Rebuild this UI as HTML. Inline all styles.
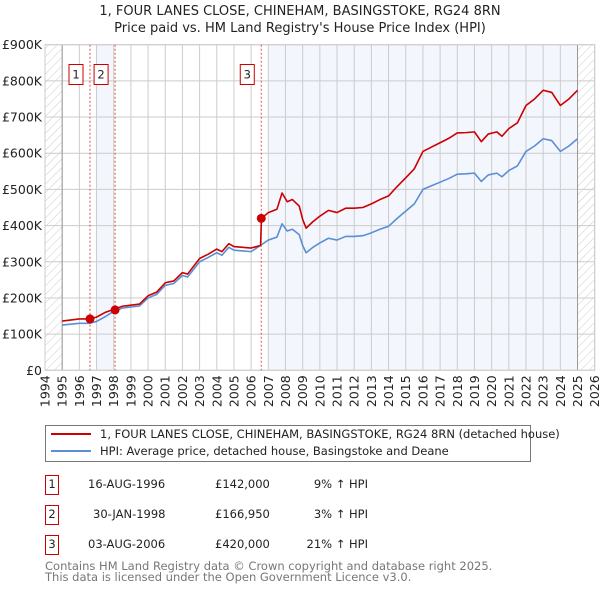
<!DOCTYPE html>
<html><head><meta charset="utf-8"><style>
body{margin:0;background:#fff;}
svg{display:block;font-family:"DejaVu Sans","Liberation Sans",sans-serif;}
</style></head><body>
<svg id="chart" width="600" height="590" viewBox="0 0 600 590">
<defs>
<pattern id="hatch" width="6" height="6" patternUnits="userSpaceOnUse" patternTransform="rotate(45)">
<line x1="0" y1="0" x2="0" y2="6" stroke="#ccc" stroke-width="1"/>
</pattern>
</defs>
<text x="300" y="15" text-anchor="middle" font-size="13" fill="#222">1, FOUR LANES CLOSE, CHINEHAM, BASINGSTOKE, RG24 8RN</text>
<text x="300" y="32" text-anchor="middle" font-size="13" fill="#222">Price paid vs. HM Land Registry's House Price Index (HPI)</text>
<g id="plot"></g>
<g>
<rect x="45.5" y="425.5" width="485" height="36" fill="#fff" stroke="#777"/>
<line x1="51" y1="434" x2="91" y2="434" stroke="#cc0000" stroke-width="2"/>
<text x="100" y="438" font-size="11.5" fill="#222">1, FOUR LANES CLOSE, CHINEHAM, BASINGSTOKE, RG24 8RN (detached house)</text>
<line x1="51" y1="451" x2="91" y2="451" stroke="#5b8fd4" stroke-width="2"/>
<text x="100" y="455" font-size="11.5" fill="#222">HPI: Average price, detached house, Basingstoke and Deane</text>
</g>
<g font-size="11.5" fill="#222">
<rect x="45.5" y="475.5" width="13" height="19" fill="#fff" stroke="#c00"/><text x="52" y="488" text-anchor="middle">1</text>
<text x="88" y="488">16-AUG-1996</text><text x="215" y="488">£142,000</text><text x="368" y="488" text-anchor="end">9% ↑ HPI</text>
<rect x="45.5" y="505.5" width="13" height="19" fill="#fff" stroke="#c00"/><text x="52" y="518" text-anchor="middle">2</text>
<text x="93" y="518">30-JAN-1998</text><text x="215" y="518">£166,950</text><text x="368" y="518" text-anchor="end">3% ↑ HPI</text>
<rect x="45.5" y="535.5" width="13" height="19" fill="#fff" stroke="#c00"/><text x="52" y="548" text-anchor="middle">3</text>
<text x="88" y="548">03-AUG-2006</text><text x="215" y="548">£420,000</text><text x="368" y="548" text-anchor="end">21% ↑ HPI</text>
</g>
<text x="45" y="570" font-size="11.5" fill="#777">Contains HM Land Registry data © Crown copyright and database right 2025.</text>
<text x="45" y="581" font-size="11.5" fill="#777">This data is licensed under the Open Government Licence v3.0.</text>
</svg>
<script>
const years=[1994,1995,1996,1997,1998,1999,2000,2001,2002,2003,2004,2005,2006,2007,2008,2009,2010,2011,2012,2013,2014,2015,2016,2017,2018,2019,2020,2021,2022,2023,2024,2025,2026];
const yTicks=[0,100,200,300,400,500,600,700,800,900];
const yTickLabels=["£0","£100K","£200K","£300K","£400K","£500K","£600K","£700K","£800K","£900K"];
const hpiDates=[1995,1996,1996.6,1997,1997.5,1998,1998.5,1999,1999.5,2000,2000.5,2001,2001.5,2002,2002.3,2003,2003.5,2004,2004.3,2004.7,2005,2005.5,2006,2006.6,2007,2007.5,2007.8,2008.1,2008.4,2008.8,2009.0,2009.2,2009.6,2010,2010.5,2011,2011.5,2012,2012.5,2013,2013.5,2014,2014.5,2015,2015.5,2016,2016.5,2017,2017.5,2018,2018.5,2019,2019.4,2019.8,2020.3,2020.6,2021,2021.5,2022,2022.5,2023,2023.5,2024,2024.5,2025];
const hpiValues=[125,130,130,135,148,163,172,175,178,200,210,235,240,262,258,300,312,325,318,340,332,330,328,347,360,368,405,385,390,375,345,325,340,352,365,360,370,370,372,380,390,398,420,440,460,500,510,520,530,542,543,545,522,540,545,535,552,565,605,620,640,635,605,620,640];
const priceDates=[1995,1996,1996.6,1997,1997.5,1998,1998.5,1999,1999.5,2000,2000.5,2001,2001.5,2002,2002.3,2003,2003.5,2004,2004.3,2004.7,2005,2005.5,2006,2006.55,2006.6,2007,2007.5,2007.8,2008.1,2008.4,2008.8,2009.0,2009.2,2009.6,2010,2010.5,2011,2011.5,2012,2012.5,2013,2013.5,2014,2014.5,2015,2015.5,2016,2016.5,2017,2017.5,2018,2018.5,2019,2019.4,2019.8,2020.3,2020.6,2021,2021.5,2022,2022.5,2023,2023.5,2024,2024.5,2025];
const priceValues=[136,142,142,147,160,168,177,180,183,206,216,242,247,270,266,309,321,335,328,350,342,340,338,345,420,436,445,490,466,472,454,417,393,411,426,442,436,448,448,450,460,472,482,508,532,557,605,617,629,641,656,657,659,632,653,659,647,668,684,732,750,774,768,732,750,774];
const saleDates=[1996.62,1998.08,2006.59];
const saleValues=[142,166.95,420];
const saleLabels=["1","2","3"];

const NS="http://www.w3.org/2000/svg";
const X0=45,X1=594.7,Y0=370.3,Y1=44.7;
const xs=t=>X0+(t-1994)/(2026-1994)*(X1-X0);
const ys=v=>Y0-v/900*(Y0-Y1);
const g=document.getElementById('plot');
function mk(tag,attrs,parent){const e=document.createElementNS(NS,tag);for(const k in attrs)e.setAttribute(k,attrs[k]);(parent||g).appendChild(e);return e;}

let e;
e=mk('rect',{x:X0,y:Y1,width:X1-X0,height:Y0-Y1,fill:'#fff'});


e=mk('rect',{x:xs(1997),y:Y1,width:xs(1998)-xs(1997),height:Y0-Y1,fill:'#f3f6fd'});


e=mk('rect',{x:xs(2007),y:Y1,width:xs(2025)-xs(2007),height:Y0-Y1,fill:'#f3f6fd'});


e=mk('rect',{x:X0,y:Y1,width:xs(1995)-X0,height:Y0-Y1,fill:'url(#hatch)'});


e=mk('rect',{x:xs(2025),y:Y1,width:X1-xs(2025),height:Y0-Y1,fill:'url(#hatch)'});



years.forEach(y=>{
 e=mk('line',{x1:xs(y),x2:xs(y),y1:Y1,y2:Y0,stroke:'#ccc','stroke-width':1});
 
 
 e=mk('text',{x:0,y:0,transform:`translate(${xs(y)+4.5},${Y0+5}) rotate(-90)`,'text-anchor':'end','font-size':12.5,fill:'#222'});
 e.textContent=y;
 
 
});
yTicks.forEach((v,i)=>{
 e=mk('line',{x1:X0,x2:X1,y1:ys(v),y2:ys(v),stroke:'#ccc','stroke-width':1});
 
 
 e=mk('text',{x:X0-3,y:ys(v)+4.5,'text-anchor':'end','font-size':12.5,fill:'#222'});
 e.textContent=yTickLabels[i];
 
 
});
e=mk('line',{x1:xs(1995),x2:xs(1995),y1:Y1,y2:Y0,stroke:'#999','stroke-width':1});


e=mk('line',{x1:xs(2025),x2:xs(2025),y1:Y1,y2:Y0,stroke:'#999','stroke-width':1});


e=mk('rect',{x:X0,y:Y1,width:X1-X0,height:Y0-Y1,fill:'none',stroke:'#ccc'});



saleDates.forEach((d,i)=>{
 e=mk('line',{x1:xs(d),x2:xs(d),y1:Y1,y2:Y0,stroke:'#e05050','stroke-width':1,'stroke-dasharray':'2,2'});
 
 
 e=mk('rect',{x:xs(d)-21,y:64.5,width:14,height:20,fill:'#fff',stroke:'#c00'});
 
 
 e=mk('text',{x:xs(d)-14,y:78.5,'text-anchor':'middle','font-size':11.5,fill:'#222'});
 e.textContent=saleLabels[i];
 
 
});

e=mk('polyline',{points:hpiDates.map((d,i)=>xs(d)+','+ys(hpiValues[i])).join(' '),fill:'none',stroke:'#5b8fd4','stroke-width':1.6,'stroke-linejoin':'round'});


e=mk('polyline',{points:priceDates.map((d,i)=>xs(d)+','+ys(priceValues[i])).join(' '),fill:'none',stroke:'#cc0000','stroke-width':1.6,'stroke-linejoin':'round'});


saleDates.forEach((d,i)=>{
 e=mk('circle',{cx:xs(d),cy:ys(saleValues[i]),r:4.5,fill:'#cc0000'});
 
 
});
</script>
</body></html>
